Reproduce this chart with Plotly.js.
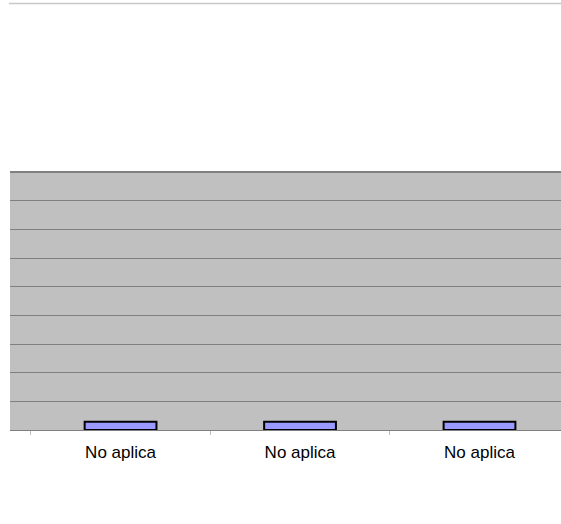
<!DOCTYPE html>
<html>
<head>
<meta charset="utf-8">
<script src="https://cdn.plot.ly/plotly-3.0.1.min.js"></script>
<style>html,body{margin:0;padding:0;background:#fff;}#chart{width:561px;height:524px;}</style>
</head>
<body>
<div id="chart"></div>
<script>
var categories = ["No aplica 1", "No aplica 2", "No aplica 3"];
var tickLabels = ["No aplica", "No aplica", "No aplica"];
var values = [0.29, 0.29, 0.29];

var trace = {
  type: 'bar',
  x: categories,
  y: values,
  width: 0.4,
  marker: {color: '#9999ff', line: {color: '#000000', width: 2}},
  hoverinfo: 'none'
};

var layout = {
  width: 561, height: 524,
  margin: {l: 10, r: 0, t: 172, b: 94, pad: 0},
  paper_bgcolor: '#ffffff',
  plot_bgcolor: '#c0c0c0',
  showlegend: false,
  font: {family: 'Liberation Sans, Arial, sans-serif', size: 17, color: '#000'},
  xaxis: {
    type: 'category',
    tickmode: 'array', tickvals: categories, ticktext: tickLabels,
    range: [-0.616, 2.454],
    showline: true, linecolor: '#808080', linewidth: 1,
    ticks: 'outside', tickson: 'boundaries', ticklen: 4, tickcolor: '#c0c0c0', tickwidth: 1,
    ticklabelstandoff: 7,
    showgrid: false, zeroline: false,
    tickfont: {size: 17, color: '#000'}
  },
  yaxis: {
    range: [0, 9], dtick: 1, tick0: 0,
    showticklabels: false, ticks: '',
    showgrid: true, gridcolor: '#808080', gridwidth: 1,
    zeroline: false, showline: false
  },
  shapes: [
    {type: 'line', xref: 'paper', yref: 'paper', x0: -0.002, x1: 1, y0: 1.653, y1: 1.653,
     line: {color: '#c8c8c8', width: 1.5}},
    {type: 'line', xref: 'paper', yref: 'paper', x0: 0, x1: 1, y0: 1, y1: 1,
     line: {color: '#808080', width: 2}}
  ]
};

Plotly.newPlot('chart', [trace], layout, {staticPlot: true, displayModeBar: false});
</script>
</body>
</html>
